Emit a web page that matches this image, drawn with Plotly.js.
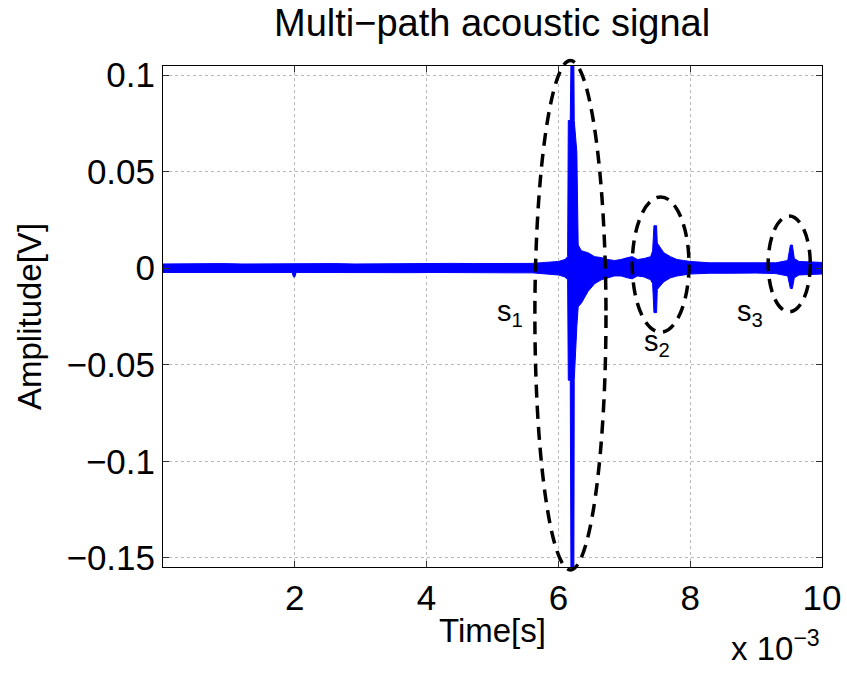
<!DOCTYPE html>
<html>
<head>
<meta charset="utf-8">
<script src="https://cdn.plot.ly/plotly-3.0.1.min.js"></script>
<style>html,body{margin:0;padding:0;background:#fff;}#chart{width:847px;height:675px;}</style>
</head>
<body>
<div id="chart"></div>
<script>
// Signal envelope (time in ms, amplitude in V)
var timeMs = [0.00, 0.30, 0.60, 0.90, 1.20, 1.50, 1.80, 1.96, 1.98, 2.00, 2.02, 2.30, 2.60, 2.90, 3.20, 3.50, 3.80, 4.10, 4.40, 4.70, 5.00, 5.30, 5.60, 5.80, 6.00, 6.10, 6.14, 6.15, 6.18, 6.19, 6.235, 6.24, 6.28, 6.30, 6.35, 6.45, 6.55, 6.65, 6.75, 6.85, 6.95, 7.05, 7.12, 7.20, 7.30, 7.40, 7.43, 7.45, 7.49, 7.50, 7.60, 7.70, 7.80, 7.90, 8.00, 8.30, 8.60, 9.00, 9.30, 9.48, 9.52, 9.55, 9.58, 9.65, 9.80, 10.00];
var upperV = [0.0022, 0.0023, 0.0022, 0.0024, 0.0022, 0.0023, 0.0022, 0.0022, 0.0022, 0.0022, 0.0022, 0.0023, 0.0024, 0.0022, 0.0023, 0.0023, 0.0022, 0.0024, 0.0025, 0.0024, 0.0024, 0.0025, 0.0025, 0.0030, 0.0035, 0.0045, 0.0060, 0.0765, 0.0765, 0.1047, 0.1047, 0.0765, 0.0600, 0.0120, 0.0090, 0.0080, 0.0060, 0.0055, 0.0045, 0.0040, 0.0045, 0.0055, 0.0060, 0.0045, 0.0050, 0.0060, 0.0090, 0.0220, 0.0220, 0.0130, 0.0080, 0.0060, 0.0045, 0.0040, 0.0035, 0.0028, 0.0028, 0.0026, 0.0028, 0.0040, 0.0120, 0.0120, 0.0050, 0.0035, 0.0033, 0.0030];
var lowerV = [-0.0022, -0.0021, -0.0023, -0.0022, -0.0023, -0.0022, -0.0022, -0.0022, -0.0045, -0.0045, -0.0022, -0.0023, -0.0022, -0.0023, -0.0022, -0.0023, -0.0023, -0.0022, -0.0024, -0.0023, -0.0023, -0.0024, -0.0024, -0.0028, -0.0035, -0.0045, -0.0060, -0.0580, -0.0580, -0.1547, -0.1547, -0.0580, -0.0300, -0.0200, -0.0180, -0.0120, -0.0080, -0.0060, -0.0050, -0.0040, -0.0040, -0.0050, -0.0055, -0.0040, -0.0045, -0.0060, -0.0080, -0.0230, -0.0230, -0.0110, -0.0070, -0.0050, -0.0040, -0.0035, -0.0030, -0.0026, -0.0026, -0.0025, -0.0028, -0.0040, -0.0105, -0.0105, -0.0050, -0.0035, -0.0033, -0.0030];

// Tick labels
var xTickVals = [0.002, 0.004, 0.006, 0.008, 0.010];
var xTickText = ['2', '4', '6', '8', '10'];
var yTickVals = [-0.15, -0.1, -0.05, 0, 0.05, 0.1];
var yTickText = ['\u22120.15', '\u22120.1', '\u22120.05', '0', '0.05', '0.1'];

// Dashed ellipses (data bounds, time in ms)
var ellX0 = [5.643, 7.121, 9.183];
var ellX1 = [6.722, 7.982, 9.822];
var ellY0 = [-0.1562, -0.0331, -0.0226];
var ellY1 = [0.1075, 0.0369, 0.0270];

// Path labels
var pathLabels = ['s<sub>1</sub>', 's<sub>2</sub>', 's<sub>3</sub>'];
var labelX = [5.27, 7.49, 8.905];
var labelY = [-0.0233, -0.0388, -0.0233];

var xRange = [0, 0.010];
var yRange = [-0.1547, 0.1047];

var tSec = timeMs.map(function (v) { return v * 1e-3; });
var polyX = tSec.concat(tSec.slice().reverse());
var polyY = upperV.concat(lowerV.slice().reverse());

var font = 'Liberation Sans, Arial, Helvetica, sans-serif';

function px(v) { return (v * 1e-3 - xRange[0]) / (xRange[1] - xRange[0]); }
function py(v) { return (v - yRange[0]) / (yRange[1] - yRange[0]); }

var shapes = ellX0.map(function (_, i) {
  return {
    type: 'circle', xref: 'paper', yref: 'paper',
    x0: px(ellX0[i]), x1: px(ellX1[i]), y0: py(ellY0[i]), y1: py(ellY1[i]),
    line: { color: 'black', width: 3.5, dash: '13px,8px' }, layer: 'above'
  };
});

var annotations = pathLabels.map(function (t, i) {
  return {
    text: t, x: labelX[i] * 1e-3, y: labelY[i], xref: 'x', yref: 'y',
    showarrow: false, font: { family: font, size: 29, color: 'black' }
  };
});
annotations.push({
  text: 'x 10<sup>\u22123</sup>', xref: 'paper', yref: 'paper',
  x: 1.0, y: -0.112, xanchor: 'right', yanchor: 'top', showarrow: false,
  font: { family: font, size: 33, color: 'black' }
});

var data = [{
  type: 'scatter', mode: 'lines', x: polyX, y: polyY,
  fill: 'toself', fillcolor: '#0000ff',
  line: { color: '#0000ff', width: 1 }, hoverinfo: 'skip', showlegend: false
}];

var axisCommon = {
  showline: true, linecolor: 'black', linewidth: 1, mirror: 'ticks',
  ticks: 'inside', ticklen: 6, tickcolor: '#333', tickwidth: 1,
  showgrid: true, gridcolor: '#b8b8b8', griddash: 'dot', gridwidth: 1,
  zeroline: false, tickfont: { family: font, size: 35, color: 'black' }
};

var layout = {
  width: 847, height: 675,
  margin: { l: 163, r: 25, t: 66, b: 108 },
  paper_bgcolor: 'white', plot_bgcolor: 'white',
  title: { text: 'Multi\u2212path acoustic signal', font: { family: font, size: 38, color: 'black' }, x: 0.581, xanchor: 'center', y: 0.966, yanchor: 'middle' },
  xaxis: Object.assign({}, axisCommon, {
    range: xRange, tickmode: 'array', tickvals: xTickVals, ticktext: xTickText,
    title: { text: 'Time[s]', font: { family: font, size: 33, color: 'black' }, standoff: 2 }
  }),
  yaxis: Object.assign({}, axisCommon, {
    range: yRange, tickmode: 'array', tickvals: yTickVals, ticktext: yTickText,
    title: { text: 'Amplitude[V]', font: { family: font, size: 33, color: 'black' }, standoff: 14 }
  }),
  shapes: shapes,
  annotations: annotations
};

Plotly.newPlot('chart', data, layout, { staticPlot: true });
</script>
</body>
</html>
